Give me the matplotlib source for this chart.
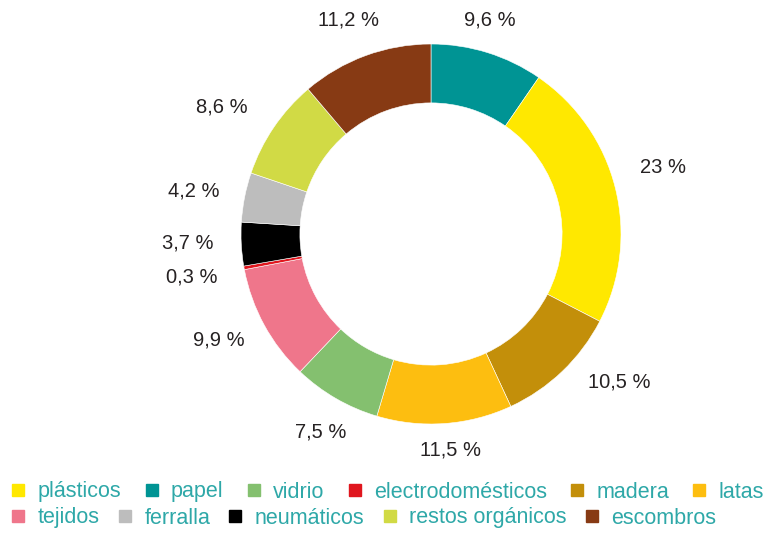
import matplotlib
matplotlib.use("Agg")
import matplotlib.pyplot as plt
from matplotlib.lines import Line2D
import numpy as np

# Composition of waste (percent), drawn clockwise from 12 o'clock
ring_names = ["papel", "plásticos", "madera", "latas", "vidrio", "tejidos",
              "electrodomésticos", "neumáticos", "ferralla", "restos orgánicos", "escombros"]
ring_values = [9.6, 23.0, 10.5, 11.5, 7.5, 9.9, 0.3, 3.7, 4.2, 8.6, 11.2]
ring_labels = ["9,6 %", "23 %", "10,5 %", "11,5 %", "7,5 %", "9,9 %",
               "0,3 %", "3,7 %", "4,2 %", "8,6 %", "11,2 %"]

colors = {
    "plásticos": "#FFE800",
    "papel": "#009494",
    "vidrio": "#84C06F",
    "electrodomésticos": "#E0161E",
    "madera": "#C38F0A",
    "latas": "#FDBE10",
    "tejidos": "#EF768B",
    "ferralla": "#BDBDBD",
    "neumáticos": "#000000",
    "restos orgánicos": "#D1DA45",
    "escombros": "#873A14",
}

legend_row1 = ["plásticos", "papel", "vidrio", "electrodomésticos", "madera", "latas"]
legend_row2 = ["tejidos", "ferralla", "neumáticos", "restos orgánicos", "escombros"]

# small label nudges (degrees, radius factor) to keep labels clear of the ring
angle_nudge = [2, 2, 8, 1, 1, -2, 0, -1, 1, 3, 1]
radius_fac = [1.17, 1.27, 1.26, 1.14, 1.19, 1.25, 1.28, 1.28, 1.27, 1.29, 1.21]

FONT = ["Liberation Sans", "DejaVu Sans"]
plt.rcParams["font.family"] = FONT

W, H = 771, 533
fig = plt.figure(figsize=(W / 100, H / 100), dpi=100)
ax = fig.add_axes([0, 0, 1, 1])
R = 190.0
cx, cy = 431.0, 234.0
ax.axis("off")

wedges, _ = ax.pie(ring_values, colors=[colors[n] for n in ring_names],
                   startangle=90, counterclock=False, radius=1.0,
                   wedgeprops=dict(width=0.31, edgecolor="white", linewidth=0.4))
ax.set_xlim(-cx / R, (W - cx) / R)
ax.set_ylim(-(H - cy) / R, cy / R)
ax.set_aspect("auto")

for w, lab, dn, rf in zip(wedges, ring_labels, angle_nudge, radius_fac):
    mid = np.deg2rad((w.theta1 + w.theta2) / 2 + dn)
    ax.text(rf * np.cos(mid), rf * np.sin(mid), lab, ha="center", va="center",
            fontsize=14.5, color="#262223")

def make_handles(names):
    return [Line2D([], [], marker="s", linestyle="none", markersize=8,
                   markerfacecolor=colors[n], markeredgecolor=colors[n]) for n in names]

for names, yc, colsp in ((legend_row1, 492, 1.1), (legend_row2, 518, 0.87)):
    leg = fig.legend(make_handles(names), names, loc="center left",
                     bbox_to_anchor=(12 / W, 1 - yc / H), ncol=len(names),
                     frameon=False, fontsize=15.5, handlelength=0.6,
                     handletextpad=0.6, columnspacing=colsp, borderpad=0,
                     borderaxespad=0)
    for t in leg.get_texts():
        t.set_color("#2EA8A8")

fig.savefig("out.png", dpi=100)
